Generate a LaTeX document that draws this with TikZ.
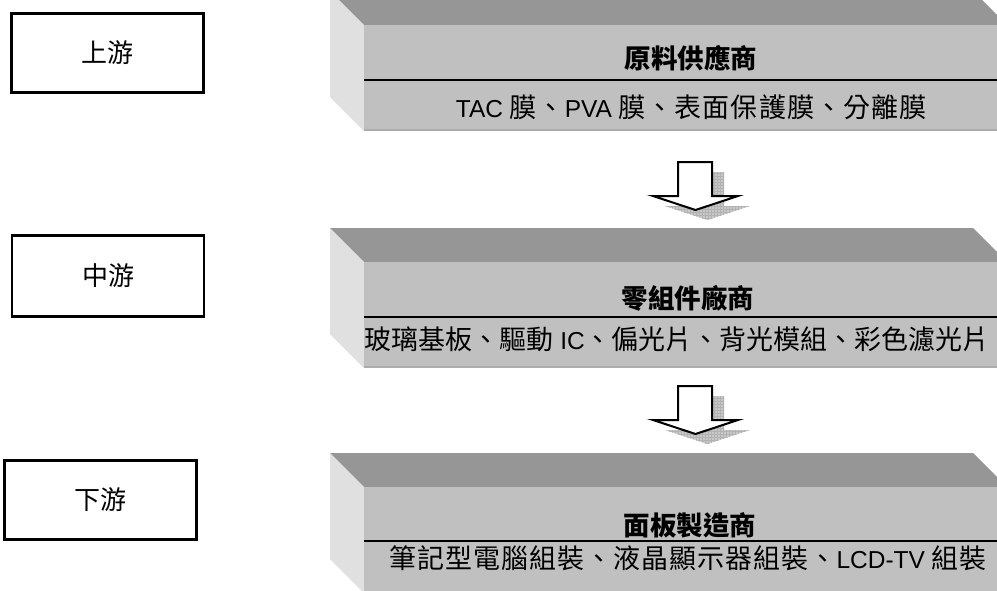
\documentclass[tikz,border=0pt]{standalone}
\usepackage{fontspec}
\setmainfont{Liberation Sans}
\newfontfamily\zhsp{Noto Sans CJK TC}[LetterSpace=4, Scale=1.1]
\newfontfamily\zhtight{Noto Sans CJK TC}[Scale=1.1]
\newfontfamily\zhfam{Noto Sans CJK TC}
\newcommand\zt[1]{{\zhsp #1}}
\newcommand\ztt[1]{{\zhtight #1}}
\usetikzlibrary{patterns}
\definecolor{topface}{RGB}{150,150,150}
\definecolor{frontface}{RGB}{192,192,192}
\definecolor{sideface}{RGB}{224,224,224}
\definecolor{edgegray}{RGB}{172,172,172}
\definecolor{shadowgray}{RGB}{200,200,200}
\newcommand\drawslab[2]{%
  \fill[topface] (330,#1-34) -- (973,#1-34) -- (1007,#1) -- (364,#1) -- cycle;
  \fill[sideface] (330,#1-34) -- (364,#1) -- (364,#1+106) -- (330,#1+72) -- cycle;
  \fill[frontface] (364,#1) rectangle (1007,#1+106);
  \draw[edgegray, line width=1.5pt] (364,#1+105) -- (1007,#1+105);
  \draw[black, line width=2pt] (364,#2) -- (1007,#2);
}
\newcommand\drawdownarrow[1]{%
  \begin{scope}[shift={(12,10)}]
    \fill[shadowgray] (678,#1) -- (712,#1) -- (712,#1+34) -- (738,#1+34) -- (695.5,#1+48) -- (653,#1+34) -- (678,#1+34) -- cycle;
    \fill[pattern=grid, pattern color=gray!60] (678,#1) -- (712,#1) -- (712,#1+34) -- (738,#1+34) -- (695.5,#1+48) -- (653,#1+34) -- (678,#1+34) -- cycle;
  \end{scope}
  \draw[black, line width=2pt, fill=white, line join=miter] (678,#1) -- (712,#1) -- (712,#1+34) -- (738,#1+34) -- (695.5,#1+48) -- (653,#1+34) -- (678,#1+34) -- cycle;
}
\begin{document}
\begin{tikzpicture}[x=1pt,y=-1pt,
  lbox/.style={draw=black, line width=2.7pt, minimum width=192pt, minimum height=79pt, inner sep=0pt,
    font=\fontsize{26}{30}\zhfam},
  ttl/.style={inner sep=0pt, font=\fontsize{26.5}{30}\zhfam\bfseries},
  subt/.style={inner sep=0pt, font=\fontsize{24.5}{28}\selectfont}]
\useasboundingbox (0,0) rectangle (997,590);
\clip (0,0) rectangle (997,590);
% left stage boxes
\node[lbox] (up) at (107.5,53) {上游};
\node[lbox, minimum height=81pt] (mid) at (108,276) {中游};
\node[lbox] (down) at (100.5,500) {下游};
% slabs
\drawslab{25}{80}
\drawslab{262}{317}
\drawslab{487}{541}
% arrows
\drawdownarrow{162}
\drawdownarrow{386}
% texts
\node[ttl] (t1) at (691,58) {原料供應商};
\node[subt] (s1) at (691,107) {TAC \zt{膜、}PVA \zt{膜、表面保護膜、分離膜}};
\node[ttl] (t2) at (688,298) {零組件廠商};
\node[subt] (s2) at (677,339) {\ztt{玻璃基板、驅動} IC\ztt{、偏光片、背光模組、彩色濾光片}};
\node[ttl] (t3) at (690,525) {面板製造商};
\node[subt] (s3) at (688,558) {\zt{筆記型電腦組裝、液晶顯示器組裝、}LCD-TV \zt{組裝}};
\end{tikzpicture}
\end{document}
